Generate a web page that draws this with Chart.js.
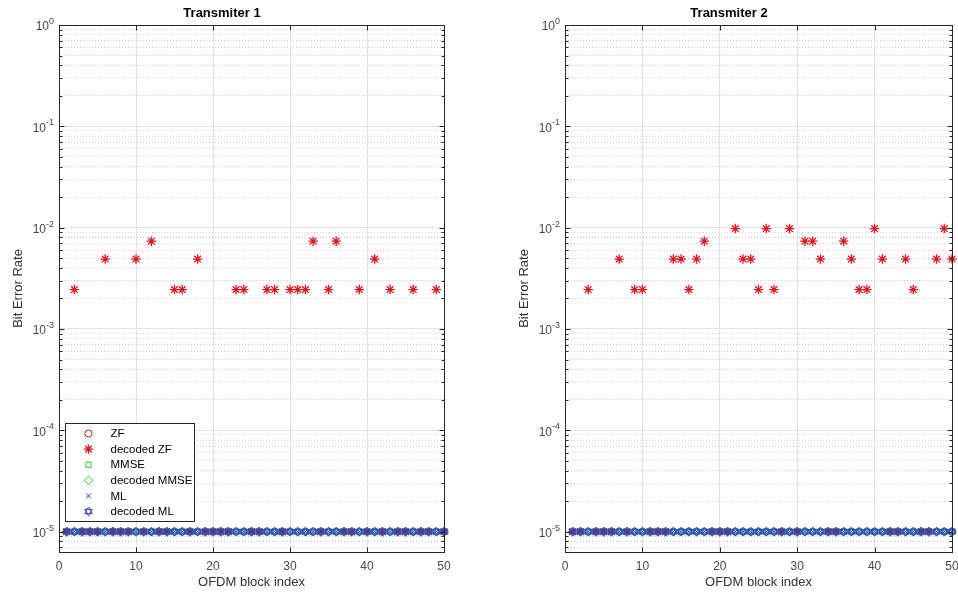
<!DOCTYPE html>
<html>
<head>
<meta charset="utf-8">
<script src="https://cdn.jsdelivr.net/npm/chart.js@4.4.1/dist/chart.umd.min.js"></script>
<style>
  html, body { margin: 0; padding: 0; background: #fff; overflow: hidden; width: 958px; height: 597px; }
  canvas { position: absolute; top: 0; }
  #c1 { left: 0; }
  #c2 { left: 506px; }
</style>
</head>
<body>
<canvas id="c1" width="503" height="597"></canvas>
<canvas id="c2" width="505" height="597"></canvas>
<script>
// OFDM block index (x)
const blockIndex = [
  1, 2, 3, 4, 5, 6, 7, 8, 9, 10,
  11, 12, 13, 14, 15, 16, 17, 18, 19, 20,
  21, 22, 23, 24, 25, 26, 27, 28, 29, 30,
  31, 32, 33, 34, 35, 36, 37, 38, 39, 40,
  41, 42, 43, 44, 45, 46, 47, 48, 49, 50
];

// zero-error blocks are plotted on the 1e-5 floor
const floorRow = [
  1e-5, 1e-5, 1e-5, 1e-5, 1e-5, 1e-5, 1e-5, 1e-5, 1e-5, 1e-5,
  1e-5, 1e-5, 1e-5, 1e-5, 1e-5, 1e-5, 1e-5, 1e-5, 1e-5, 1e-5,
  1e-5, 1e-5, 1e-5, 1e-5, 1e-5, 1e-5, 1e-5, 1e-5, 1e-5, 1e-5,
  1e-5, 1e-5, 1e-5, 1e-5, 1e-5, 1e-5, 1e-5, 1e-5, 1e-5, 1e-5,
  1e-5, 1e-5, 1e-5, 1e-5, 1e-5, 1e-5, 1e-5, 1e-5, 1e-5, 1e-5
];

const decodedZfT1 = [
  1e-5, 0.00245, 1e-5, 1e-5, 1e-5, 0.0049, 1e-5, 1e-5, 1e-5, 0.0049,
  1e-5, 0.00735, 1e-5, 1e-5, 0.00245, 0.00245, 1e-5, 0.0049, 1e-5, 1e-5,
  1e-5, 1e-5, 0.00245, 0.00245, 1e-5, 1e-5, 0.00245, 0.00245, 1e-5, 0.00245,
  0.00245, 0.00245, 0.00735, 1e-5, 0.00245, 0.00735, 1e-5, 1e-5, 0.00245, 1e-5,
  0.0049, 1e-5, 0.00245, 1e-5, 1e-5, 0.00245, 1e-5, 1e-5, 0.00245, 1e-5
];

const decodedZfT2 = [
  1e-5, 1e-5, 0.00245, 1e-5, 1e-5, 1e-5, 0.0049, 1e-5, 0.00245, 0.00245,
  1e-5, 1e-5, 1e-5, 0.0049, 0.0049, 0.00245, 0.0049, 0.00735, 1e-5, 1e-5,
  1e-5, 0.0098, 0.0049, 0.0049, 0.00245, 0.0098, 0.00245, 1e-5, 0.0098, 1e-5,
  0.00735, 0.00735, 0.0049, 1e-5, 1e-5, 0.00735, 0.0049, 0.00245, 0.00245, 0.0098,
  0.0049, 1e-5, 1e-5, 0.0049, 0.00245, 1e-5, 1e-5, 0.0049, 0.0098, 0.0049
];

// ZF, decoded ZF, MMSE, decoded MMSE, ML, decoded ML
const zfT1 = floorRow, mmseT1 = floorRow, decodedMmseT1 = floorRow, mlT1 = floorRow, decodedMlT1 = floorRow;
const zfT2 = floorRow, mmseT2 = floorRow, decodedMmseT2 = floorRow, mlT2 = floorRow, decodedMlT2 = floorRow;

const seriesLabels = ['ZF', 'decoded ZF', 'MMSE', 'decoded MMSE', 'ML', 'decoded ML'];
const panelTitles = ['Transmiter 1', 'Transmiter 2'];
const xTickStep = 10;

const RED = '#e3141b', GREEN = '#2fcc3a', BLUE = '#1f3ad6';
const FONT = '"Liberation Sans", Arial, Helvetica, sans-serif';
const TICK_COLOR = '#4a4a4a';
Chart.defaults.font.family = FONT;

// hexagram marker (MATLAB 'h')
function hexagram(color) {
  const c = document.createElement('canvas');
  c.width = 11; c.height = 11;
  const g = c.getContext('2d');
  g.strokeStyle = color; g.lineWidth = 0.9;
  const r = 4.4, cx = 5.5, cy = 5.5;
  for (let k = 0; k < 2; k++) {
    g.beginPath();
    for (let j = 0; j < 3; j++) {
      const a = -Math.PI / 2 + k * Math.PI / 3 + j * 2 * Math.PI / 3;
      const px = cx + r * Math.cos(a), py = cy + r * Math.sin(a);
      j ? g.lineTo(px, py) : g.moveTo(px, py);
    }
    g.closePath(); g.stroke();
  }
  return c;
}

const markers = [
  { pointStyle: 'circle', radius: 3.6, color: RED, width: 1 },
  { pointStyle: 'star', radius: 4.7, color: RED, width: 1.3 },
  { pointStyle: 'rect', radius: 3.7, color: GREEN, width: 1 },
  { pointStyle: 'rectRot', radius: 4.3, color: GREEN, width: 1 },
  { pointStyle: 'crossRot', radius: 3.4, color: BLUE, width: 1 },
  { pointStyle: hexagram(BLUE), radius: 5, color: BLUE, width: 1 }
];

function isDecade(v) {
  if (!(v > 0)) return false;
  const l = Math.log10(v);
  return Math.abs(l - Math.round(l)) < 1e-9;
}

const frame = {
  id: 'frame',
  afterDraw(chart) {
    const { ctx, chartArea: a, scales: { x, y } } = chart;
    const L = Math.round(a.left) + 0.5, R = Math.round(a.right) + 0.5;
    const T = Math.round(a.top) + 0.5, B = Math.round(a.bottom) + 0.5;
    ctx.save();
    ctx.strokeStyle = '#262626';
    ctx.lineWidth = 1;
    ctx.strokeRect(L, T, R - L, B - T);
    ctx.beginPath();
    y.ticks.forEach(t => {
      const py = Math.round(y.getPixelForValue(t.value)) + 0.5;
      const len = isDecade(t.value) ? 5 : 3;
      ctx.moveTo(L, py); ctx.lineTo(L + len, py);
      ctx.moveTo(R, py); ctx.lineTo(R - len, py);
    });
    x.ticks.forEach(t => {
      const px = Math.round(x.getPixelForValue(t.value)) + 0.5;
      ctx.moveTo(px, B); ctx.lineTo(px, B - 5);
      ctx.moveTo(px, T); ctx.lineTo(px, T + 5);
    });
    ctx.stroke();

    // decade labels with a raised exponent, like 10^-3
    ctx.fillStyle = TICK_COLOR;
    ctx.textBaseline = 'middle';
    ctx.textAlign = 'left';
    y.ticks.filter(t => isDecade(t.value)).forEach(t => {
      const py = y.getPixelForValue(t.value);
      const exp = String(Math.round(Math.log10(t.value)));
      ctx.font = '12px ' + FONT;
      const wBase = ctx.measureText('10').width;
      ctx.font = '9px ' + FONT;
      const wExp = ctx.measureText(exp).width;
      const right = a.left - 5;
      ctx.font = '12px ' + FONT;
      ctx.fillText('10', right - wExp - wBase, py + 2);
      ctx.font = '9px ' + FONT;
      ctx.fillText(exp, right - wExp, py - 3.5);
    });
    ctx.restore();
  }
};

const boxLegend = {
  id: 'boxLegend',
  afterDraw(chart) {
    const { ctx, chartArea: a } = chart;
    const rowH = 15.6;
    const w = 129, h = 98;
    const left = Math.round(a.left) + 6.5, top = Math.round(a.bottom) - 30.5 - h;
    ctx.save();
    ctx.fillStyle = '#fff';
    ctx.strokeStyle = '#262626';
    ctx.lineWidth = 1;
    ctx.fillRect(left, top, w, h);
    ctx.strokeRect(left, top, w, h);
    ctx.font = '11.5px ' + FONT;
    ctx.textBaseline = 'middle';
    ctx.textAlign = 'left';
    chart.data.datasets.forEach((ds, i) => {
      const cy = top + 10 + i * rowH;
      const m = markers[i];
      ctx.strokeStyle = m.color;
      ctx.fillStyle = 'rgba(0,0,0,0)';
      ctx.lineWidth = m.width;
      Chart.helpers.drawPoint(ctx, { pointStyle: m.pointStyle, radius: m.radius, borderWidth: m.width, rotation: 0 }, left + 23, cy);
      ctx.fillStyle = '#000';
      ctx.fillText(ds.label, left + 45, cy + 0.5);
    });
    ctx.restore();
  }
};

function makeDatasets(series) {
  return series.map((vals, i) => ({
    label: seriesLabels[i],
    data: blockIndex.map((b, k) => ({ x: b, y: vals[k] })),
    showLine: false,
    pointStyle: markers[i].pointStyle,
    pointRadius: markers[i].radius,
    pointHoverRadius: markers[i].radius,
    pointBorderWidth: markers[i].width,
    borderColor: markers[i].color,
    backgroundColor: 'rgba(0,0,0,0)',
    order: series.length - i,
    clip: false
  }));
}

function makeChart(id, title, series, withLegend) {
  return new Chart(document.getElementById(id), {
    type: 'scatter',
    data: { datasets: makeDatasets(series) },
    plugins: withLegend ? [frame, boxLegend] : [frame],
    options: {
      responsive: false,
      animation: false,
      devicePixelRatio: 1,
      layout: { padding: { left: 0, right: 59, top: 0, bottom: 0 } },
      plugins: {
        legend: { display: false },
        tooltip: { enabled: false },
        title: {
          display: true, text: title, color: '#000',
          font: { size: 13, weight: 'bold', lineHeight: 1.2 },
          padding: { top: 5.6, bottom: 3.8 }
        }
      },
      scales: {
        x: {
          type: 'linear', min: 0, max: 50,
          afterFit: s => { s.height = 45; s.paddingLeft = 0; s.paddingRight = 0; },
          ticks: { stepSize: xTickStep, padding: 7, color: TICK_COLOR, font: { size: 12 }, maxRotation: 0 },
          grid: { drawTicks: false, color: '#e3e3e3' },
          border: { display: false },
          title: {
            display: true, text: 'OFDM block index', color: '#333',
            font: { size: 13, lineHeight: 1.2 }, padding: { top: 0, bottom: 7 }
          }
        },
        y: {
          type: 'logarithmic', min: 6.3e-6, max: 1,
          afterFit: s => { s.width = 59; s.paddingTop = 0; s.paddingBottom = 0; },
          afterBuildTicks: s => {
            s.ticks = s.ticks.filter(t => {
              const m = t.value / Math.pow(10, Math.floor(Math.log10(t.value) + 1e-9));
              return Math.abs(m - Math.round(m)) < 1e-6;
            });
          },
          ticks: { display: false, autoSkip: false },
          grid: {
            drawTicks: false,
            color: ctx => (ctx.tick && isDecade(ctx.tick.value)) ? '#e3e3e3' : '#cdcdcd'
          },
          border: {
            display: false,
            dash: ctx => (ctx.tick && !isDecade(ctx.tick.value)) ? [1, 2] : []
          },
          title: {
            display: true, text: 'Bit Error Rate', color: '#333',
            font: { size: 13, lineHeight: 1.2 }, padding: { top: 11, bottom: 0 }
          }
        }
      }
    }
  });
}

makeChart('c1', panelTitles[0], [zfT1, decodedZfT1, mmseT1, decodedMmseT1, mlT1, decodedMlT1], true);
makeChart('c2', panelTitles[1], [zfT2, decodedZfT2, mmseT2, decodedMmseT2, mlT2, decodedMlT2], false);
</script>
</body>
</html>
